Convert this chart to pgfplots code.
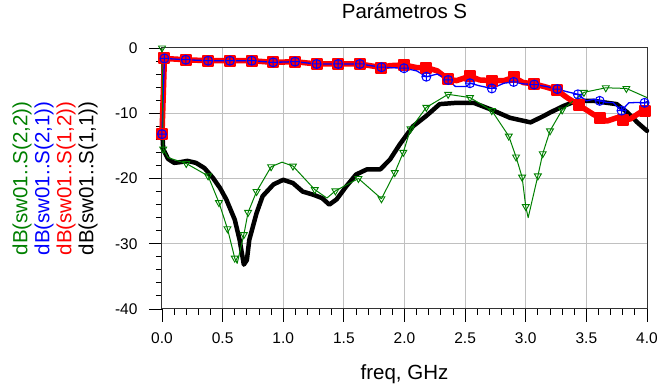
\documentclass[border=0pt]{standalone}
\usepackage{pgfplots}
\pgfplotsset{compat=1.18}
\usepackage{fontspec}
\setmainfont{Liberation Sans}
\definecolor{sgreen}{RGB}{0,128,0}
\definecolor{gridgray}{RGB}{192,192,192}
\newcommand{\lblfont}{\fontsize{20.5}{22}\selectfont}
\begin{document}
\begin{tikzpicture}
\path[use as bounding box] (-162pt,-81pt) rectangle (497pt,309pt);
\begin{axis}[
 scale only axis, width=485pt, height=261pt,
 at={(0,0)}, anchor=south west,
 xmin=0, xmax=4, ymin=-40, ymax=0,
 xtick={0,0.5,1,1.5,2,2.5,3,3.5,4},
 xticklabels={0.0,0.5,1.0,1.5,2.0,2.5,3.0,3.5,4.0},
 ytick={-40,-30,-20,-10,0},
 yticklabels={-40,-30,-20,-10,0},
 minor x tick num=4, minor y tick num=4,
 tick pos=left, tick align=outside,
 major tick length=13pt, minor tick length=6pt,
 every tick/.style={black, line width=0.9pt},
 grid=major, major grid style={gridgray, line width=1pt},
 axis line style={black!80, line width=1pt},
 ticklabel style={font=\fontsize{15.5}{18}\selectfont},
 xticklabel style={yshift=-7pt},
 yticklabel style={xshift=-8pt},
 title={Parámetros S},
 title style={font=\lblfont, at={(axis description cs:0.5,1)}, anchor=base, yshift=23pt},
 xlabel={freq, GHz},
 xlabel style={font=\lblfont, at={(axis description cs:0.5,0)}, anchor=base, yshift=-71pt},
 ylabel={{\color{sgreen}dB(sw01..S(2,2))}\\{\color{blue}dB(sw01..S(2,1))}\\{\color{red}dB(sw01..S(1,2))}\\dB(sw01..S(1,1))},
 ylabel style={font=\lblfont, align=center, at={(axis description cs:-0.2206,0.5)}, anchor=center},
 clip=false,
]
% S(1,1) black
\addplot[black, line width=4.5pt, line join=round, line cap=round] coordinates {
(0,-12) (0.01,-15.5) (0.05,-17.0) (0.1,-17.6) (0.15,-17.5) (0.21,-17.3) (0.28,-17.6) (0.35,-18.4) (0.42,-19.9) (0.48,-21.5) (0.53,-23.2) (0.60,-26.3) (0.64,-29.4) (0.675,-33.2) (0.70,-32.5) (0.72,-29.4) (0.78,-25.3) (0.83,-22.7) (0.92,-20.9) (1.0,-20.2) (1.08,-20.7) (1.16,-22.0) (1.25,-22.5) (1.32,-23.0) (1.38,-24.0) (1.44,-23.2) (1.52,-21.2) (1.60,-19.4) (1.69,-18.6) (1.80,-18.6) (1.88,-17.1) (1.96,-14.8) (2.07,-12.0) (2.18,-10.4) (2.29,-8.6) (2.43,-8.4) (2.57,-8.4) (2.71,-9.4) (2.87,-10.7) (3.04,-11.4) (3.15,-10.4) (3.20,-9.9) (3.31,-8.9) (3.42,-8.1) (3.56,-8.1) (3.67,-8.4) (3.75,-8.6) (3.84,-9.9) (3.92,-11.4) (4.0,-12.7)
};
% S(1,2) red
\addplot[red, line width=5.5pt, line join=round] coordinates {
(0,-13.2) (0.02,-1.6) (0.196,-1.8) (0.38,-1.95) (0.56,-1.95) (0.74,-1.95) (0.917,-2.2) (1.097,-2.1) (1.275,-2.45) (1.453,-2.45) (1.632,-2.45) (1.81,-3.0) (1.88,-2.7) (1.996,-2.6) (2.10,-3.0) (2.18,-3.0) (2.27,-3.5) (2.36,-4.8) (2.43,-5.0) (2.54,-4.3) (2.62,-4.9) (2.72,-5.0) (2.82,-5.0) (2.90,-4.5) (2.98,-5.3) (3.07,-5.5) (3.17,-6.0) (3.26,-6.5) (3.34,-7.6) (3.45,-8.9) (3.56,-10.2) (3.67,-11.2) (3.75,-10.7) (3.86,-10.9) (3.95,-9.8) (4.0,-9.6)
};
\addplot[red, only marks, mark=square*, mark size=5pt, mark options={line join=round, line width=2pt}] coordinates {
(0,-13.2) (0.02,-1.6) (0.196,-1.8) (0.38,-1.95) (0.56,-1.95) (0.74,-1.95) (0.917,-2.2) (1.097,-2.1) (1.275,-2.45) (1.453,-2.45) (1.632,-2.45) (1.81,-3.0) (1.996,-2.6) (2.18,-3.0) (2.36,-4.8) (2.54,-4.3) (2.72,-5.0) (2.90,-4.5) (3.07,-5.5) (3.26,-6.5) (3.44,-8.8) (3.61,-10.8) (3.80,-11.0) (3.98,-9.7)
};
% S(2,1) blue
\addplot[blue, line width=1.3pt, line join=round] coordinates {
(0,-13.2) (0.02,-1.6) (0.196,-1.8) (0.38,-1.95) (0.56,-1.95) (0.74,-1.95) (0.917,-2.2) (1.097,-2.1) (1.275,-2.45) (1.453,-2.45) (1.632,-2.45) (1.81,-2.95) (1.996,-3.1) (2.10,-3.5) (2.18,-4.4) (2.27,-4.0) (2.36,-4.9) (2.42,-5.9) (2.51,-5.9) (2.54,-5.4) (2.62,-5.8) (2.72,-6.2) (2.82,-5.4) (2.90,-5.2) (2.98,-5.5) (3.07,-5.6) (3.17,-5.9) (3.26,-6.3) (3.34,-6.7) (3.43,-7.1) (3.50,-8.1) (3.56,-7.85) (3.61,-8.1) (3.67,-8.35) (3.72,-8.35) (3.76,-9.1) (3.79,-9.6) (3.85,-8.4) (3.92,-8.35) (3.98,-8.4) (4.0,-8.2)
};
\addplot[blue, only marks, mark=oplus, mark size=4.5pt, mark options={line width=1pt}] coordinates {
(0,-13.2) (0.02,-1.6) (0.196,-1.8) (0.38,-1.95) (0.56,-1.95) (0.74,-1.95) (0.917,-2.2) (1.097,-2.1) (1.275,-2.45) (1.453,-2.45) (1.632,-2.45) (1.81,-2.95) (1.996,-3.1) (2.18,-4.4) (2.36,-4.9) (2.54,-5.4) (2.72,-6.2) (2.90,-5.2) (3.07,-5.6) (3.26,-6.3) (3.43,-7.1) (3.61,-8.1) (3.79,-9.6) (3.98,-8.4)
};
% S(2,2) green
\addplot[sgreen, line width=1pt, line join=round] coordinates {
(0,0) (0.01,-15.5) (0.05,-16.8) (0.2,-17.7) (0.38,-19.6) (0.47,-23.7) (0.54,-27.7) (0.60,-32.2) (0.62,-33.0) (0.675,-28.6) (0.71,-25.2) (0.78,-22.0) (0.90,-18.2) (0.99,-17.5) (1.08,-18.1) (1.26,-21.7) (1.36,-23.0) (1.43,-21.9) (1.62,-20.0) (1.81,-23.1) (1.92,-19.1) (1.99,-16.0) (2.05,-12.4) (2.18,-9.1) (2.36,-7.1) (2.54,-7.6) (2.72,-9.6) (2.86,-13.5) (2.92,-16.7) (2.97,-19.8) (3.0,-24.3) (3.02,-26.0) (3.10,-19.6) (3.14,-16.2) (3.20,-12.7) (3.30,-9.5) (3.48,-6.8) (3.66,-6.1) (3.83,-6.2) (4.0,-7.6)
};
\addplot[sgreen, only marks, mark=triangle, mark size=4pt, mark options={rotate=180, line width=0.9pt}] coordinates {
(0,0) (0.01,-15.5) (0.2,-17.7) (0.38,-19.6) (0.47,-23.7) (0.54,-27.7) (0.60,-32.2) (0.675,-28.6) (0.71,-25.2) (0.78,-22.0) (0.90,-18.2) (1.08,-18.1) (1.26,-21.7) (1.43,-21.9) (1.62,-20.0) (1.81,-23.1) (1.92,-19.1) (1.99,-16.0) (2.05,-12.4) (2.18,-9.1) (2.36,-7.1) (2.54,-7.6) (2.72,-9.6) (2.86,-13.5) (2.92,-16.7) (2.97,-19.8) (3.0,-24.3) (3.10,-19.6) (3.14,-16.2) (3.20,-12.7) (3.30,-9.5) (3.48,-6.8) (3.66,-6.1) (3.83,-6.2)
};
\end{axis}
\end{tikzpicture}
\end{document}
